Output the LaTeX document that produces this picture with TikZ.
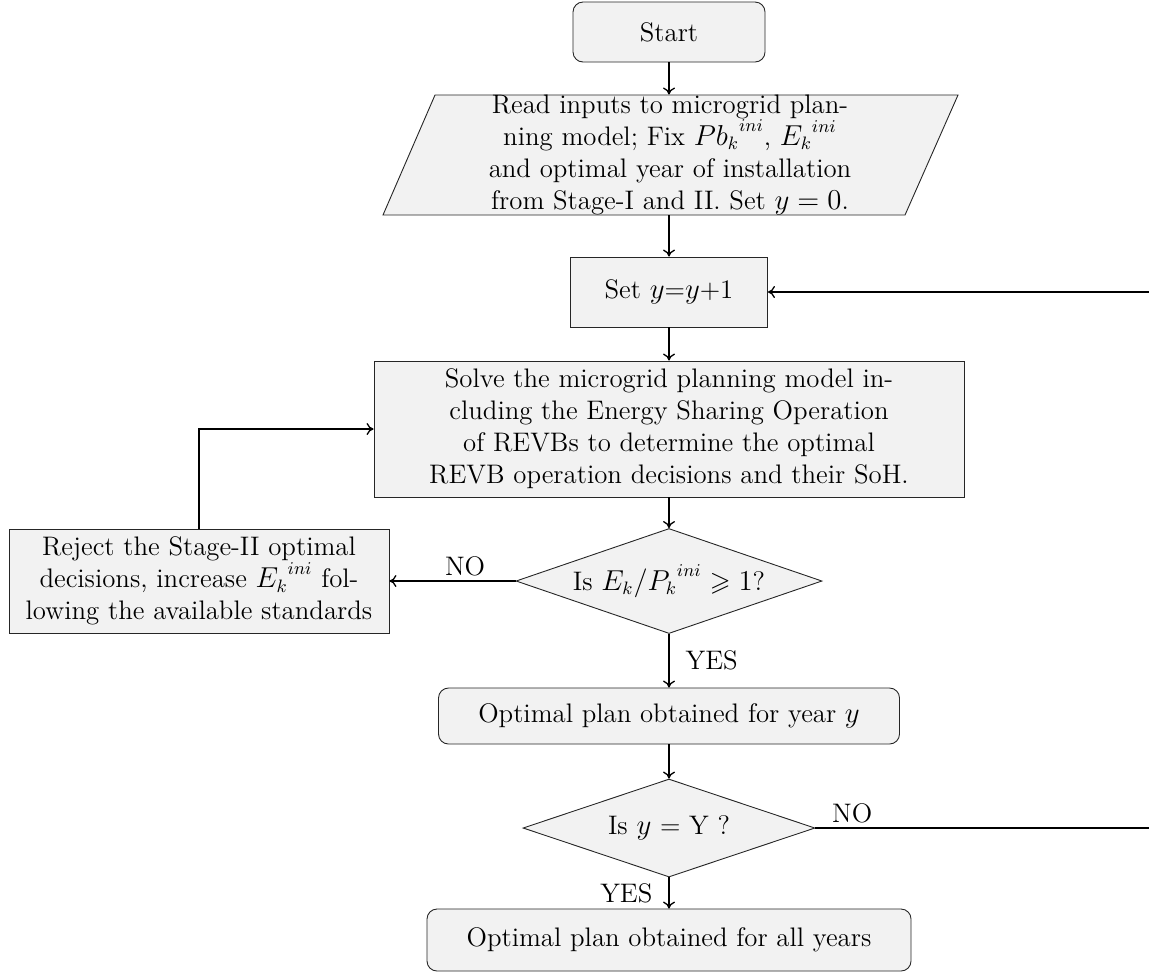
\documentclass[tikz,border=0pt]{standalone}
\usepackage{amsmath,amssymb}
\usetikzlibrary{shapes.geometric,arrows.meta}
\begin{document}
\begin{tikzpicture}[x=0.5pt,y=-0.5pt,
  txt/.style={align=center, font=\fontsize{13.4}{16}\selectfont},
  base/.style={txt, draw=black!85, fill=gray!10, line width=0.45pt, inner sep=0pt},
  proc/.style={base, rectangle},
  term/.style={base, rectangle, rounded corners=5pt},
  dec/.style={base, diamond, aspect=2.9},
  arr/.style={-{To[length=3.5pt,width=6pt]}, line width=0.65pt},
  lbl/.style={txt, inner sep=2pt}
]
\clip (0,0) rectangle (1149,976);
% parallelogram outline
\draw[draw=black!85, fill=gray!10, line width=0.45pt] (435,95) -- (958,95) -- (905,215) -- (383,215) -- cycle;

\node[term, minimum width=96pt, minimum height=30pt] (start) at (669,32) {Start};
\node[txt, minimum height=60pt, inner sep=0pt] (read) at (670,155)
  {Read inputs to microgrid plan-\\ning model; Fix ${Pb_k}^{ini}$, ${E_k}^{ini}$\\and optimal year of installation\\from Stage-I and II. Set $y=0$.};
\node[proc, minimum width=98.5pt, minimum height=35pt] (set) at (669,292) {Set $y$=$y$+1};
\node[proc, minimum width=295pt, minimum height=68pt] (solve) at (669,429)
  {Solve the microgrid planning model in-\\cluding the Energy Sharing Operation\\of REVBs to determine the optimal\\REVB operation decisions and their SoH.};
\node[dec, minimum width=153pt, minimum height=52.5pt] (d1) at (669,581) {Is $E_k/{P_k}^{ini}\geqslant 1$?};
\node[proc, minimum width=190pt, minimum height=52pt] (reject) at (199,581)
  {Reject the Stage-II optimal\\decisions, increase ${E_k}^{ini}$ fol-\\lowing the available standards};
\node[term, minimum width=230.5pt, minimum height=28pt] (plan) at (669,716) {Optimal plan obtained for year $y$};
\node[dec, minimum width=146pt, minimum height=49pt] (d2) at (669,828) {Is $y$ = Y ?};
\node[term, minimum width=242pt, minimum height=31pt] (final) at (669,940) {Optimal plan obtained for all years};
\coordinate (loop) at (1160,828);

\draw[arr] (start.south) -- (start.south |- read.north);
\draw[arr] (set.north |- 0,215) -- (set.north);
\draw[arr] (set) -- (solve);
\draw[arr] (solve) -- (d1);
\draw[arr] (d1.west) -- node[lbl, above, pos=0.4]{NO} (reject.east);
\draw[arr] (reject.north) |- (solve.west);
\draw[arr] (d1.south) -- node[lbl, right, xshift=6pt]{YES} (plan.north);
\draw[arr] (plan) -- (d2);
\draw[arr] (d2.south) -- node[lbl, left, xshift=-6pt]{YES} (final.north);
\draw[arr] (d2.east) -- node[lbl, pos=0, above right, xshift=6pt]{NO} (loop) |- (set.east);
\end{tikzpicture}
\end{document}
